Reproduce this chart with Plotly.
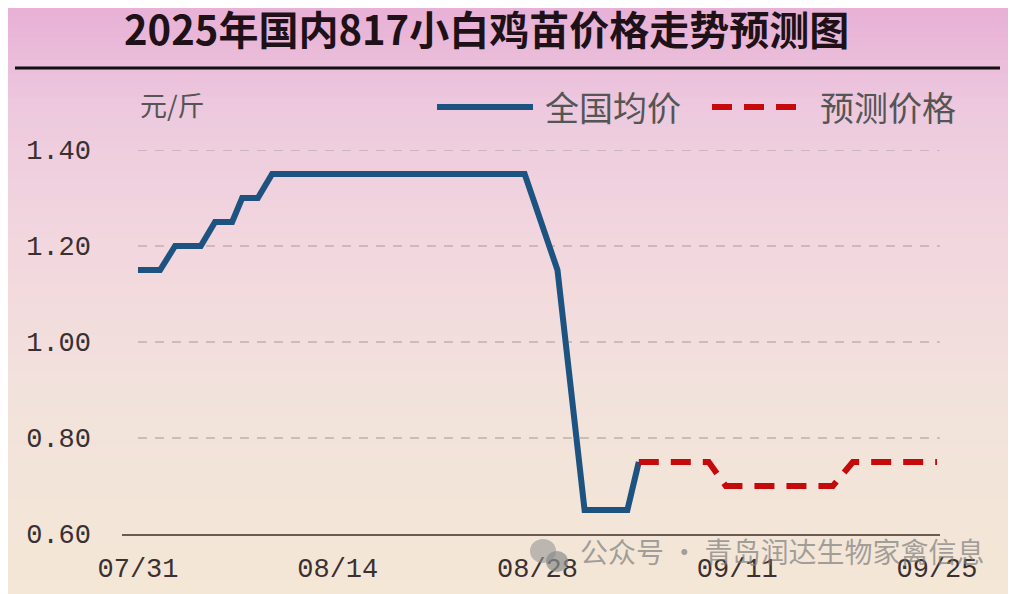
import plotly.graph_objects as go

# days counted from 07/31
avg_days = [0, 1.55, 2.6, 4.4, 5.4, 6.6, 7.3, 8.4, 9.4, 27.1, 29.4, 31.3, 34.3, 35.1]
avg_price = [1.15, 1.15, 1.20, 1.20, 1.25, 1.25, 1.30, 1.30, 1.35, 1.35, 1.15, 0.65, 0.65, 0.75]

fc_days = [35.1, 40.0, 41.2, 48.7, 50.1, 56.0]
fc_price = [0.75, 0.75, 0.70, 0.70, 0.75, 0.75]

tick_days = [0, 14, 28, 42, 56]
tick_text = ["07/31", "08/14", "08/28", "09/11", "09/25"]
y_ticks = [0.60, 0.80, 1.00, 1.20, 1.40]

W, H = 1016, 594
OFF = 8  # page body margin


def px(x):
    return (x - OFF) / W


def py(y):
    return 1 - (y - OFF) / H


fig = go.Figure()
fig.add_trace(go.Scatter(x=avg_days, y=avg_price, mode="lines", name="全国均价",
                         line=dict(color="#1d5380", width=6)))
fig.add_trace(go.Scatter(x=fc_days, y=fc_price, mode="lines", name="预测价格",
                         line=dict(color="#c40a0a", width=6, dash="20px,12px")))

shapes = []
# background gradient
stops = [(0.0, (232, 176, 214)), (0.18, (237, 202, 222)), (0.38, (242, 214, 222)),
         (0.65, (242, 226, 220)), (1.0, (244, 231, 213))]
n = 80
for i in range(n):
    t = (i + 0.5) / n
    for j in range(len(stops) - 1):
        if stops[j][0] <= t <= stops[j + 1][0]:
            a, b = stops[j], stops[j + 1]
            f = (t - a[0]) / (b[0] - a[0])
            c = [round(a[1][k] + (b[1][k] - a[1][k]) * f) for k in range(3)]
            break
    shapes.append(dict(type="rect", xref="paper", yref="paper", x0=0, x1=1,
                       y0=1 - (i + 1) / n - 0.002, y1=1 - i / n,
                       fillcolor="rgb(%d,%d,%d)" % tuple(c), line_width=0, layer="below"))

# title rule
shapes.append(dict(type="line", xref="paper", yref="paper", x0=px(15), x1=px(1000),
                   y0=py(68), y1=py(68), line=dict(color="#111", width=3)))

# dashed gridlines
for v in y_ticks[1:]:
    shapes.append(dict(type="line", xref="x", yref="y", x0=0, x1=56.2, y0=v, y1=v,
                       line=dict(color="#bfb0b0", width=1.3, dash="9px,8px"), layer="below"))

# legend symbols
shapes.append(dict(type="line", xref="paper", yref="paper", x0=px(437), x1=px(533),
                   y0=py(107), y1=py(107), line=dict(color="#1d5380", width=6)))
shapes.append(dict(type="line", xref="paper", yref="paper", x0=px(712), x1=px(800),
                   y0=py(107), y1=py(107), line=dict(color="#c40a0a", width=6, dash="20px,12px")))

# watermark icon
shapes.append(dict(type="circle", xref="paper", yref="paper", x0=px(530), x1=px(556),
                   y0=py(563), y1=py(539), fillcolor="rgba(150,150,150,0.6)", line_width=0))
shapes.append(dict(type="circle", xref="paper", yref="paper", x0=px(546), x1=px(568),
                   y0=py(572), y1=py(551), fillcolor="rgba(140,140,140,0.7)", line_width=0))

annotations = [
    dict(text="<b>2025年国内817小白鸡苗价格走势预测图</b>", xref="paper", yref="paper",
         x=px(486), y=py(28), showarrow=False, xanchor="center", yanchor="middle",
         font=dict(family="Noto Sans CJK SC", size=40, color="#1e1218")),
    dict(text="元/斤", xref="paper", yref="paper", x=px(138), y=py(105), showarrow=False,
         xanchor="left", yanchor="middle",
         font=dict(family="Noto Sans CJK SC", size=27, color="#555")),
    dict(text="全国均价", xref="paper", yref="paper", x=px(543), y=py(107), showarrow=False,
         xanchor="left", yanchor="middle",
         font=dict(family="Noto Sans CJK SC", size=34, color="#555")),
    dict(text="预测价格", xref="paper", yref="paper", x=px(818), y=py(107), showarrow=False,
         xanchor="left", yanchor="middle",
         font=dict(family="Noto Sans CJK SC", size=34, color="#555")),
    dict(text="公众号 · 青岛润达生物家禽信息", xref="paper", yref="paper", x=px(578), y=py(551),
         showarrow=False, xanchor="left", yanchor="middle",
         font=dict(family="Noto Sans CJK SC", size=28, color="rgba(125,125,125,0.7)")),
]

fig.update_layout(
    width=W, height=H,
    margin=dict(l=0, r=0, t=0, b=0),
    template="none",
    paper_bgcolor="#f2dede",
    plot_bgcolor="rgba(0,0,0,0)",
    showlegend=False,
    shapes=shapes,
    annotations=annotations,
    xaxis=dict(domain=[px(122), px(940)], range=[-1.12, 56.21], tickvals=tick_days,
               ticktext=tick_text, showgrid=False, zeroline=False, showline=True,
               linecolor="#6a5a52", linewidth=2, ticks="", ticklabelstandoff=9,
               tickfont=dict(family="Liberation Mono", size=27, color="#3b3030"),
               automargin=False),
    yaxis=dict(domain=[py(534), py(150)], range=[0.6, 1.4], tickvals=y_ticks,
               ticktext=["%.2f" % v for v in y_ticks], showgrid=False, zeroline=False,
               showline=False, ticks="", ticklabelstandoff=30,
               tickfont=dict(family="Liberation Mono", size=27, color="#3b3030"),
               automargin=False),
)

fig.write_html("out.html")
